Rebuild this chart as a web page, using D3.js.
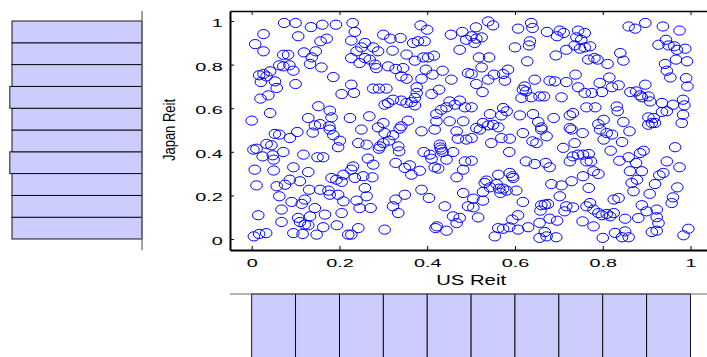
<!DOCTYPE html>
<html>
<head>
<meta charset="utf-8">
<script src="https://cdn.jsdelivr.net/npm/d3@7/dist/d3.min.js"></script>
<style>
  body { margin: 0; background: #fff; }
  svg { display: block; overflow: hidden; }
  text { font-family: "Liberation Sans", Arial, sans-serif; fill: #000; }
</style>
</head>
<body>
<svg id="chart" width="707" height="357"></svg>
<script>
// tick values shared by both axes
const tickValues = [0, 0.2, 0.4, 0.6, 0.8, 1];

const binEdges = [0, 0.1, 0.2, 0.3, 0.4, 0.5, 0.6, 0.7, 0.8, 0.9, 1];
const usCounts = [60, 60, 60, 60, 60, 60, 60, 60, 60, 60];
const japanCounts = [60, 60, 60, 61, 60, 60, 61, 60, 60, 60]; // bottom bin first

// scatter samples [US Reit, Japan Reit]
const samples = [
  // upper left
  [0.074,0.991],[0.100,0.991],[0.135,0.972],[0.161,0.983],[0.192,0.983],[0.027,0.940],[0.106,0.930],[0.008,0.894],
  [0.027,0.861],[0.157,0.907],[0.171,0.919],[0.072,0.845],[0.083,0.845],[0.119,0.856],[0.146,0.861],[0.137,0.833],
  [0.133,0.803],[0.159,0.787],[0.063,0.797],[0.072,0.792],[0.086,0.797],[0.095,0.772],[0.042,0.769],[0.027,0.757],
  [0.017,0.751],[0.034,0.746],[0.021,0.720],[0.053,0.723],[0.057,0.693],[0.100,0.711],[0.186,0.743],[0.205,0.665],
  [0.038,0.659],[0.020,0.644],[0.152,0.609],[0.178,0.589],[0.042,0.578],[0.129,0.555],[0.182,0.558],[0.000,0.543],
  [0.144,0.521],[0.177,0.517],[0.156,0.527],
  // upper, 0.22 - 0.49
  [0.230,0.991],[0.235,0.950],[0.227,0.910],[0.300,0.937],[0.316,0.919],[0.339,0.922],[0.385,0.980],[0.400,0.960],
  [0.454,0.937],[0.480,0.950],[0.489,0.914],[0.368,0.899],[0.379,0.907],[0.394,0.907],[0.258,0.899],[0.250,0.879],
  [0.239,0.861],[0.277,0.879],[0.288,0.861],[0.321,0.864],[0.474,0.868],[0.227,0.830],[0.258,0.830],[0.269,0.823],
  [0.246,0.807],[0.353,0.846],[0.372,0.818],[0.391,0.833],[0.402,0.833],[0.415,0.841],[0.281,0.800],[0.284,0.784],
  [0.311,0.792],[0.328,0.780],[0.345,0.784],[0.397,0.777],[0.412,0.754],[0.435,0.772],[0.341,0.746],[0.353,0.735],
  [0.387,0.735],[0.455,0.731],[0.493,0.761],[0.227,0.708],[0.233,0.670],[0.277,0.690],[0.290,0.690],[0.307,0.690],
  [0.376,0.696],[0.376,0.670],[0.427,0.685],[0.410,0.665],[0.372,0.647],[0.311,0.624],[0.322,0.639],[0.341,0.635],
  [0.353,0.624],[0.364,0.628],[0.372,0.613],[0.303,0.616],[0.451,0.631],[0.463,0.616],[0.474,0.635],[0.486,0.604],
  [0.444,0.604],[0.432,0.593],[0.421,0.573],[0.268,0.563],[0.224,0.555],[0.300,0.532],[0.288,0.512],[0.341,0.517],
  [0.356,0.543],[0.421,0.540],[0.451,0.540],[0.482,0.540],
  // upper, 0.50 - 0.76
  [0.539,0.998],[0.550,0.980],[0.511,0.971],[0.607,0.965],[0.637,0.991],[0.640,0.968],[0.673,0.950],[0.702,0.956],
  [0.711,0.945],[0.696,0.930],[0.744,0.956],[0.759,0.945],[0.740,0.925],[0.751,0.914],[0.501,0.930],[0.512,0.919],
  [0.524,0.925],[0.508,0.899],[0.634,0.907],[0.632,0.888],[0.600,0.879],[0.717,0.868],[0.736,0.888],[0.748,0.873],
  [0.759,0.879],[0.693,0.842],[0.518,0.833],[0.541,0.833],[0.628,0.815],[0.767,0.823],[0.524,0.787],[0.501,0.757],
  [0.552,0.754],[0.573,0.757],[0.584,0.777],[0.539,0.731],[0.577,0.726],[0.512,0.711],[0.526,0.674],[0.645,0.731],
  [0.679,0.726],[0.691,0.723],[0.717,0.720],[0.738,0.754],[0.744,0.696],[0.622,0.700],[0.618,0.685],[0.625,0.677],
  [0.615,0.647],[0.637,0.650],[0.656,0.654],[0.666,0.654],[0.706,0.650],[0.759,0.670],[0.501,0.604],[0.573,0.601],
  [0.581,0.586],[0.543,0.573],[0.569,0.567],[0.611,0.567],[0.641,0.573],[0.653,0.537],[0.688,0.555],[0.725,0.567],
  [0.732,0.578],[0.763,0.604],[0.512,0.509],[0.527,0.532],[0.539,0.521],[0.550,0.524],[0.562,0.512],[0.660,0.512],
  [0.725,0.509],
  // upper right
  [0.859,0.975],[0.874,0.965],[0.897,0.991],[0.937,0.975],[0.975,0.956],[0.771,0.884],[0.944,0.914],[0.927,0.891],
  [0.950,0.888],[0.963,0.884],[0.969,0.868],[0.988,0.873],[0.967,0.823],[0.992,0.815],[0.840,0.853],[0.847,0.818],
  [0.781,0.830],[0.788,0.823],[0.811,0.803],[0.942,0.803],[0.946,0.772],[0.954,0.741],[0.990,0.738],[0.993,0.700],
  [0.815,0.741],[0.793,0.716],[0.821,0.696],[0.836,0.705],[0.897,0.708],[0.775,0.670],[0.798,0.674],[0.863,0.674],
  [0.876,0.677],[0.885,0.659],[0.904,0.654],[0.889,0.650],[0.908,0.631],[0.935,0.624],[0.983,0.639],[0.986,0.613],
  [0.960,0.616],[0.946,0.586],[0.935,0.583],[0.783,0.604],[0.832,0.608],[0.834,0.586],[0.983,0.570],[0.980,0.532],
  [0.904,0.558],[0.916,0.555],[0.912,0.532],[0.919,0.532],[0.904,0.524],[0.802,0.547],[0.790,0.527],[0.847,0.537],
  // lower left
  [0.053,0.482],[0.063,0.479],[0.104,0.491],[0.139,0.488],[0.178,0.502],[0.087,0.463],[0.186,0.476],[0.201,0.451],
  [0.197,0.421],[0.034,0.436],[0.045,0.430],[0.004,0.410],[0.011,0.414],[0.025,0.379],[0.048,0.384],[0.050,0.364],
  [0.072,0.399],[0.118,0.387],[0.150,0.375],[0.163,0.375],[0.007,0.318],[0.050,0.314],[0.095,0.329],[0.129,0.307],
  [0.209,0.295],[0.182,0.280],[0.193,0.272],[0.205,0.262],[0.087,0.272],[0.110,0.265],[0.076,0.249],[0.057,0.242],
  [0.011,0.246],[0.131,0.226],[0.156,0.226],[0.175,0.222],[0.178,0.203],[0.197,0.203],[0.063,0.196],[0.091,0.170],
  [0.114,0.161],[0.121,0.181],[0.144,0.142],[0.209,0.173],[0.205,0.119],[0.068,0.135],[0.015,0.109],[0.133,0.104],
  [0.167,0.112],[0.106,0.097],[0.110,0.078],[0.121,0.066],[0.129,0.063],[0.068,0.078],[0.163,0.054],[0.194,0.063],
  [0.033,0.027],[0.017,0.023],[0.005,0.012],[0.095,0.027],[0.116,0.023],[0.148,0.020],[0.220,0.020],
  // lower, 0.22 - 0.49
  [0.250,0.502],[0.303,0.486],[0.322,0.476],[0.337,0.506],[0.387,0.494],[0.417,0.502],[0.467,0.494],[0.243,0.440],
  [0.262,0.433],[0.292,0.425],[0.300,0.440],[0.313,0.451],[0.290,0.414],[0.334,0.425],[0.336,0.402],[0.392,0.399],
  [0.406,0.387],[0.410,0.368],[0.429,0.433],[0.430,0.420],[0.432,0.410],[0.435,0.399],[0.459,0.399],[0.444,0.364],
  [0.470,0.460],[0.489,0.456],[0.486,0.356],[0.265,0.369],[0.277,0.341],[0.231,0.333],[0.227,0.318],[0.235,0.280],
  [0.254,0.288],[0.275,0.283],[0.328,0.349],[0.349,0.326],[0.360,0.338],[0.383,0.313],[0.364,0.295],[0.417,0.329],
  [0.425,0.323],[0.482,0.318],[0.467,0.283],[0.258,0.234],[0.262,0.196],[0.239,0.176],[0.246,0.142],[0.271,0.142],
  [0.328,0.181],[0.349,0.203],[0.322,0.150],[0.334,0.119],[0.387,0.226],[0.404,0.188],[0.440,0.150],[0.482,0.211],
  [0.493,0.150],[0.459,0.104],[0.474,0.097],[0.467,0.073],[0.422,0.058],[0.444,0.038],[0.243,0.050],[0.227,0.020],
  [0.303,0.043],[0.419,0.050],
  // lower, 0.50 - 0.76
  [0.520,0.502],[0.618,0.486],[0.660,0.502],[0.729,0.502],[0.501,0.463],[0.546,0.440],[0.569,0.463],[0.588,0.460],
  [0.640,0.448],[0.649,0.440],[0.672,0.471],[0.710,0.418],[0.736,0.440],[0.754,0.486],[0.587,0.399],[0.725,0.356],
  [0.732,0.379],[0.744,0.387],[0.755,0.387],[0.763,0.356],[0.501,0.359],[0.625,0.356],[0.645,0.344],[0.670,0.349],
  [0.679,0.329],[0.562,0.295],[0.535,0.268],[0.531,0.257],[0.588,0.303],[0.594,0.288],[0.596,0.280],[0.543,0.237],
  [0.558,0.252],[0.564,0.231],[0.573,0.231],[0.567,0.211],[0.581,0.222],[0.603,0.222],[0.527,0.216],[0.505,0.185],
  [0.527,0.176],[0.505,0.145],[0.516,0.099],[0.618,0.170],[0.683,0.252],[0.706,0.246],[0.729,0.265],[0.755,0.288],
  [0.702,0.196],[0.660,0.155],[0.668,0.158],[0.675,0.161],[0.658,0.130],[0.607,0.109],[0.594,0.089],[0.717,0.150],
  [0.732,0.145],[0.713,0.127],[0.679,0.093],[0.696,0.084],[0.656,0.074],[0.763,0.150],[0.754,0.081],[0.562,0.050],
  [0.573,0.047],[0.587,0.054],[0.607,0.043],[0.630,0.054],[0.668,0.032],[0.672,0.012],[0.656,0.005],[0.694,0.008],
  [0.554,0.012],
  // lower right
  [0.794,0.502],[0.809,0.486],[0.821,0.479],[0.802,0.456],[0.861,0.494],[0.844,0.445],[0.818,0.405],[0.768,0.390],
  [0.773,0.356],[0.838,0.359],[0.859,0.375],[0.876,0.349],[0.885,0.394],[0.893,0.405],[0.965,0.421],[0.946,0.356],
  [0.975,0.329],[0.779,0.311],[0.790,0.298],[0.862,0.311],[0.889,0.311],[0.878,0.272],[0.866,0.257],[0.938,0.303],
  [0.929,0.292],[0.919,0.252],[0.768,0.234],[0.870,0.219],[0.907,0.207],[0.970,0.237],[0.960,0.191],[0.957,0.165],
  [0.825,0.181],[0.836,0.188],[0.771,0.165],[0.889,0.155],[0.900,0.127],[0.923,0.135],[0.779,0.135],[0.790,0.119],
  [0.798,0.109],[0.809,0.115],[0.817,0.104],[0.825,0.119],[0.851,0.093],[0.881,0.096],[0.923,0.100],[0.927,0.073],
  [0.779,0.058],[0.828,0.028],[0.851,0.035],[0.844,0.008],[0.859,0.008],[0.912,0.032],[0.923,0.038],[0.800,0.005],
  [0.995,0.047],[0.984,0.017]
];

const svg = d3.select("#chart");

// main scatter axes (box 230..712 x 11..250, slightly wider than the window)
const x = d3.scaleLinear().domain([-0.0494, 1.0494]).range([230, 712.2]);
const y = d3.scaleLinear().domain([-0.0505, 1.0459]).range([250, 11]);

// count scales of the marginal histograms
const countLeft = d3.scaleLinear().domain([0, 60]).range([142, 12]);
const countBottom = d3.scaleLinear().domain([0, 60]).range([294, 424]);

const stretch = 1.8; // tick labels look wide in the reference

///////////// scatter points /////////////
svg.append("g")
  .selectAll("ellipse")
  .data(samples)
  .join("ellipse")
  .attr("cx", d => x(d[0]))
  .attr("cy", d => y(d[1]))
  .attr("rx", 5.8)
  .attr("ry", 4.6)
  .attr("fill", "none")
  .attr("stroke", "#0000ff")
  .attr("stroke-width", 1);

///////////// main axes /////////////
const fmt = d3.format("~g");

const gx = svg.append("g")
  .attr("transform", "translate(0," + y.range()[0] + ")")
  .call(d3.axisBottom(x).tickValues(tickValues).tickFormat(fmt)
    .tickSizeInner(-4).tickSizeOuter(0).tickPadding(9));

const gy = svg.append("g")
  .attr("transform", "translate(" + x.range()[0] + ",0)")
  .call(d3.axisLeft(y).tickValues(tickValues).tickFormat(fmt)
    .tickSizeInner(-4).tickSizeOuter(0).tickPadding(4));

const gt = svg.append("g")
  .attr("transform", "translate(0," + y.range()[1] + ")")
  .call(d3.axisTop(x).tickValues(tickValues).tickFormat("")
    .tickSizeInner(-4).tickSizeOuter(0));

const gr = svg.append("g")
  .attr("transform", "translate(" + x.range()[1] + ",0)")
  .call(d3.axisRight(y).tickValues(tickValues).tickFormat("")
    .tickSizeInner(-4).tickSizeOuter(0));

svg.selectAll(".tick line").attr("stroke", "#000");
gx.select(".domain").attr("stroke", "#000").attr("stroke-width", 2);
gy.select(".domain").attr("stroke", "#000").attr("stroke-width", 2);
gt.select(".domain").attr("stroke", "#000").attr("stroke-width", 1.3);
gr.select(".domain").attr("stroke", "#000").attr("stroke-width", 1.3);

gx.selectAll("text")
  .attr("font-size", 11)
  .attr("font-family", "Liberation Sans, Arial, sans-serif")
  .attr("transform", "scale(" + stretch + ",1)");

gy.selectAll("text")
  .attr("font-size", 11)
  .attr("dy", "0.5em")
  .attr("font-family", "Liberation Sans, Arial, sans-serif")
  .attr("transform", "scale(" + stretch + ",1)");

// axis titles
svg.append("text")
  .attr("transform", "translate(" + ((x(0) + x(1)) / 2) + ",285) scale(1.45,1)")
  .attr("text-anchor", "middle")
  .attr("font-size", 14)
  .text("US Reit");

svg.append("text")
  .attr("transform", "translate(175," + ((y(0) + y(1)) / 2) + ") scale(1.25,1) rotate(-90)")
  .attr("text-anchor", "middle")
  .attr("font-size", 13)
  .text("Japan Reit");

///////////// left histogram (Japan Reit) /////////////
const japanBins = japanCounts.map((c, i) => ({ lo: binEdges[i], hi: binEdges[i + 1], count: c }));

svg.append("g")
  .selectAll("rect")
  .data(japanBins)
  .join("rect")
  .attr("x", d => countLeft(d.count))
  .attr("y", d => y(d.hi))
  .attr("width", d => countLeft(0) - countLeft(d.count))
  .attr("height", d => y(d.lo) - y(d.hi))
  .attr("fill", "#ccccff")
  .attr("stroke", "#000")
  .attr("stroke-width", 0.9);

svg.append("line")
  .attr("x1", countLeft(0)).attr("x2", countLeft(0))
  .attr("y1", y.range()[1]).attr("y2", y.range()[0])
  .attr("stroke", "#666").attr("stroke-width", 1.2);

///////////// bottom histogram (US Reit) /////////////
const usBins = usCounts.map((c, i) => ({ lo: binEdges[i], hi: binEdges[i + 1], count: c }));

svg.append("g")
  .selectAll("rect")
  .data(usBins)
  .join("rect")
  .attr("x", d => x(d.lo))
  .attr("y", countBottom(0))
  .attr("width", d => x(d.hi) - x(d.lo))
  .attr("height", d => countBottom(d.count) - countBottom(0))
  .attr("fill", "#ccccff")
  .attr("stroke", "#000")
  .attr("stroke-width", 0.9);

svg.append("line")
  .attr("x1", x.range()[0]).attr("x2", x.range()[1])
  .attr("y1", countBottom(0)).attr("y2", countBottom(0))
  .attr("stroke", "#666").attr("stroke-width", 1.2);
</script>
</body>
</html>
